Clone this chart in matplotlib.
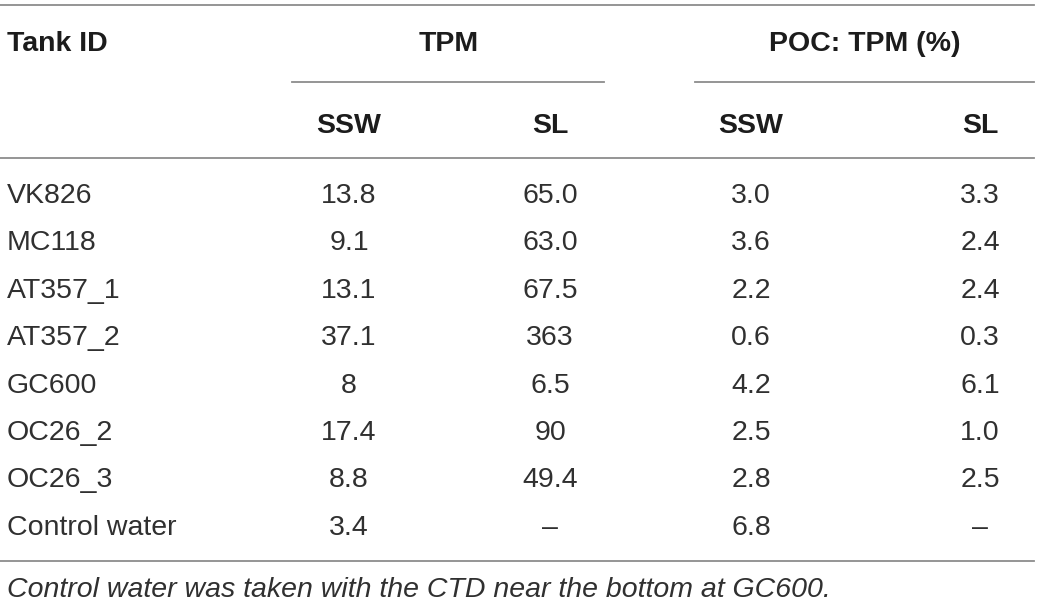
import matplotlib
matplotlib.use("Agg")
import matplotlib.pyplot as plt

tank_ids = ["VK826", "MC118", "AT357_1", "AT357_2", "GC600", "OC26_2", "OC26_3", "Control water"]
tpm_ssw = ["13.8", "9.1", "13.1", "37.1", "8", "17.4", "8.8", "3.4"]
tpm_sl = ["65.0", "63.0", "67.5", "363", "6.5", "90", "49.4", "\u2013"]
poc_ssw = ["3.0", "3.6", "2.2", "0.6", "4.2", "2.5", "2.8", "6.8"]
poc_sl = ["3.3", "2.4", "2.4", "0.3", "6.1", "1.0", "2.5", "\u2013"]
group_heads = ["TPM", "POC: TPM (%)"]
sub_heads = ["SSW", "SL", "SSW", "SL"]
footnote = "Control water was taken with the CTD near the bottom at GC600."

plt.rcParams['font.family'] = ['Liberation Sans', 'DejaVu Sans']

fig = plt.figure(figsize=(10.4, 6.04), dpi=100)
ax = fig.add_axes([0, 0, 1, 1])
ax.set_xlim(0, 1040)
ax.set_ylim(604, 0)
ax.axis("off")

head_col = "#1c1c1c"
body_col = "#303030"
line_col = "#8c8c8c"
fs = 20.5

# rules
ax.plot([0, 1034], [5, 5], color=line_col, lw=1.3)
ax.plot([292, 604], [82, 82], color=line_col, lw=1.3)
ax.plot([695, 1034], [82, 82], color=line_col, lw=1.3)
ax.plot([0, 1034], [158, 158], color=line_col, lw=1.3)
ax.plot([0, 1034], [560.5, 560.5], color=line_col, lw=1.3)

# headers (baseline positioned)
ax.text(7, 51, "Tank ID", ha="left", va="baseline", fontsize=fs, fontweight="bold", color=head_col)
ax.text(449, 51, group_heads[0], ha="center", va="baseline", fontsize=fs, fontweight="bold", color=head_col)
ax.text(865, 51, group_heads[1], ha="center", va="baseline", fontsize=fs, fontweight="bold", color=head_col)

col_x = [349, 550, 751, 980]
for x, s in zip(col_x, sub_heads):
    ax.text(x, 133, s, ha="center", va="baseline", fontsize=fs, fontweight="bold", color=head_col)

# body rows
y0, dy = 203, 47.4
for i, name in enumerate(tank_ids):
    y = y0 + i * dy
    ax.text(7, y, name, ha="left", va="baseline", fontsize=fs, color=body_col)
    for x, col in zip(col_x, [tpm_ssw, tpm_sl, poc_ssw, poc_sl]):
        ax.text(x, y, col[i], ha="center", va="baseline", fontsize=fs, color=body_col)

ax.text(7, 597, footnote, ha="left", va="baseline", fontsize=fs, style="italic", color=body_col)

fig.savefig("out.png", dpi=100, facecolor="white")
